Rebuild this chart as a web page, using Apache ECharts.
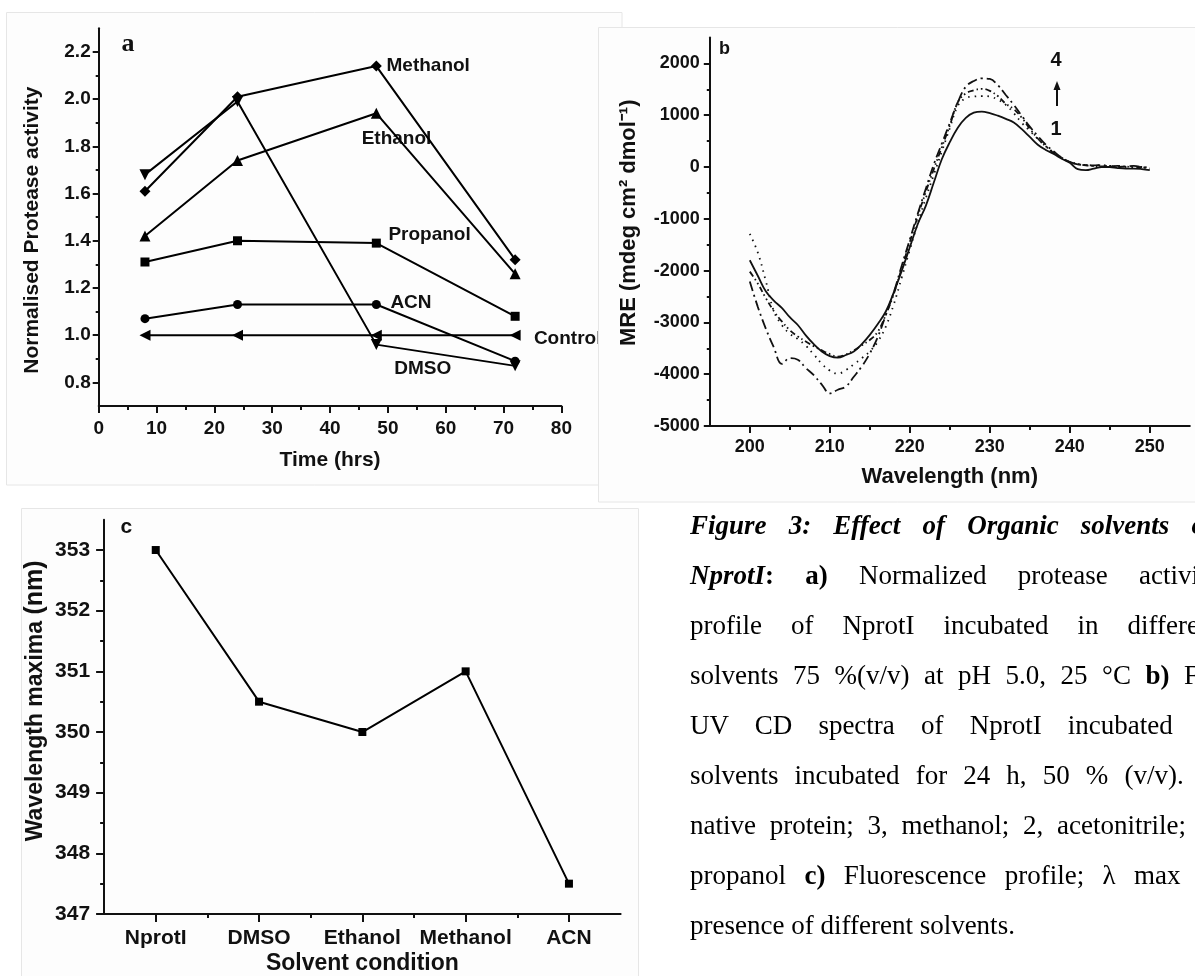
<!DOCTYPE html>
<html>
<head>
<meta charset="utf-8">
<title>Figure 3</title>
<script src="https://cdn.jsdelivr.net/npm/echarts@6.0.0/dist/echarts.min.js"></script>
<style>
  html, body { margin: 0; padding: 0; background: #fff; }
  body { width: 1195px; height: 976px; overflow: hidden; position: relative; }
  #chart { position: absolute; left: 0; top: 0; width: 1195px; height: 976px; }
  #cap {
    position: absolute; left: 690px; top: 500px; width: 530px;
    font-family: "Liberation Serif", "Times New Roman", serif;
    font-size: 27px; line-height: 50px; color: #000;
  }
  #cap .ln { text-align: justify; text-align-last: justify; }
  #cap .last { text-align: left; }
</style>
</head>
<body>
<div id="chart"></div>
<div id="cap">
  <div class="ln"><b><i>Figure 3: Effect of Organic solvents on</i></b></div>
  <div class="ln"><b><i>NprotI</i>:</b> <b>a)</b> Normalized protease activity</div>
  <div class="ln">profile of NprotI incubated in different</div>
  <div class="ln">solvents 75 %(v/v) at pH 5.0, 25 °C <b>b)</b> Far</div>
  <div class="ln">UV CD spectra of NprotI incubated in</div>
  <div class="ln">solvents incubated for 24 h, 50 % (v/v). 1,</div>
  <div class="ln">native protein; 3, methanol; 2, acetonitrile; 4,</div>
  <div class="ln">propanol <b>c)</b> Fluorescence profile; λ max in</div>
  <div class="last">presence of different solvents.</div>
</div>
<script>
// ---- panel a : normalised protease activity vs time ----
const hours = [8, 24, 48, 72]
const methanol = [1.61, 2.01, 2.14, 1.32]
const ethanol = [1.42, 1.74, 1.94, 1.26]
const dmso = [1.68, 1.99, 0.96, 0.87]
const propanol = [1.31, 1.40, 1.39, 1.08]
const acn = [1.07, 1.13, 1.13, 0.89]
const control = [1.00, 1.00, 1.00, 1.00]
const aTicksX = [0, 10, 20, 30, 40, 50, 60, 70, 80]
const aMinorX = [5, 15, 25, 35, 45, 55, 65, 75]
const aTicksY = [0.8, 1.0, 1.2, 1.4, 1.6, 1.8, 2.0, 2.2]
const aMinorY = [0.9, 1.1, 1.3, 1.5, 1.7, 1.9, 2.1]

// ---- panel b : far UV CD spectra ----
const wavelength = [200, 201, 202, 203, 204, 205, 206, 207, 208, 209,
  210, 211, 212, 213, 214, 215, 216, 217, 218, 219,
  220, 221, 222, 223, 224, 225, 226, 227, 228, 229,
  230, 231, 232, 233, 234, 235, 236, 237, 238, 239,
  240, 241, 242, 243, 244, 245, 246, 247, 248, 249, 250]
// 1, native protein
const cd1 = [-1800, -2100, -2400, -2580, -2720, -2900, -3050, -3250, -3420, -3560,
  -3650, -3680, -3630, -3560, -3420, -3240, -3030, -2790, -2420, -2000,
  -1550, -1100, -750, -300, 150, 480, 760, 950, 1050, 1070,
  1040, 990, 930, 860, 730, 580, 430, 330, 250, 160,
  80, -40, -60, -30, 0, 0, -20, -30, -30, -40, -60]
// 2, acetonitrile
const cd2 = [-1290, -1650, -2200, -2780, -3050, -3220, -3320, -3450, -3620, -3800,
  -3930, -3990, -3920, -3810, -3690, -3560, -3370, -3080, -2650, -2130,
  -1600, -1080, -600, -150, 300, 750, 1180, 1330, 1360, 1370,
  1360, 1300, 1200, 1040, 850, 700, 540, 400, 280, 180,
  100, 50, 40, 20, 30, 10, 20, 0, 10, -10, -20]
// 3, methanol
const cd3 = [-2020, -2250, -2530, -2780, -2980, -3150, -3270, -3370, -3460, -3540,
  -3610, -3660, -3620, -3540, -3440, -3340, -3180, -2850, -2450, -1950,
  -1450, -950, -480, -40, 380, 800, 1250, 1420, 1480, 1510,
  1470, 1370, 1220, 1120, 950, 740, 550, 400, 270, 170,
  100, 60, 30, 20, 10, 20, 0, 10, -10, 0, -20]
// 4, propanol
const cd4 = [-2210, -2700, -3120, -3480, -3800, -3690, -3720, -3880, -4020, -4200,
  -4370, -4300, -4240, -4050, -3850, -3600, -3280, -2860, -2420, -1900,
  -1400, -900, -420, 50, 450, 850, 1250, 1550, 1660, 1710,
  1700, 1580, 1390, 1200, 990, 780, 600, 430, 300, 180,
  100, 50, 40, 30, 40, 10, 20, 10, 20, 0, -30]
const bTicksX = [200, 210, 220, 230, 240, 250]
const bMinorX = [205, 215, 225, 235, 245]
const bTicksY = [-5000, -4000, -3000, -2000, -1000, 0, 1000, 2000]
const bMinorY = [-4500, -3500, -2500, -1500, -500, 500, 1500]

// ---- panel c : fluorescence lambda max ----
const solvents = ['NprotI', 'DMSO', 'Ethanol', 'Methanol', 'ACN']
const lambdaMax = [353, 350.5, 350, 351, 347.5]
const cTicksX = [1, 2, 3, 4, 5]
const cMinorX = [1.5, 2.5, 3.5, 4.5]
const cTicksY = [347, 348, 349, 350, 351, 352, 353]
const cMinorY = [347.5, 348.5, 349.5, 350.5, 351.5, 352.5]

const SANS = '"Liberation Sans", Arial, sans-serif'
const INK = '#111'

// major axis: line, long ticks and labels; minor axis: short ticks only
function axisPair(dim, grid, min, max, majors, minors, o) {
  const pos = dim === 'x' ? 'bottom' : 'left'
  const major = {
    type: 'value', gridIndex: grid, min, max, position: pos, z: 10,
    axisLine: { show: true, onZero: false, lineStyle: { color: INK, width: 2 } },
    axisTick: { show: true, customValues: majors, length: o.major, lineStyle: { color: INK, width: 2 } },
    axisLabel: {
      customValues: majors, margin: o.margin, color: INK, fontFamily: SANS,
      fontWeight: 'bold', fontSize: o.fontSize, formatter: o.fmt
    },
    splitLine: { show: false },
    name: o.name, nameLocation: 'middle', nameGap: o.nameGap,
    nameTextStyle: Object.assign({ color: INK, fontFamily: SANS, fontWeight: 'bold', fontSize: o.nameSize }, o.nameStyle || {})
  }
  const minor = {
    type: 'value', gridIndex: grid, min, max, position: pos, z: 10,
    axisLine: { show: false, onZero: false },
    axisTick: { show: true, customValues: minors, length: o.minor, lineStyle: { color: INK, width: 2 } },
    axisLabel: { show: false },
    splitLine: { show: false }
  }
  return [major, minor]
}

const xAxes = [
  ...axisPair('x', 0, 0, 80, aTicksX, aMinorX, {
    major: 7, minor: 4, margin: 13, fontSize: 19, fmt: v => String(v),
    name: 'Time (hrs)', nameGap: 44, nameSize: 21
  }),
  ...axisPair('x', 1, 195, 255, bTicksX, bMinorX, {
    major: 7, minor: 4, margin: 12, fontSize: 18, fmt: v => String(v),
    name: 'Wavelength (nm)', nameGap: 40, nameSize: 22
  }),
  ...axisPair('x', 2, 0.5, 5.5, cTicksX, cMinorX, {
    major: 8, minor: 4, margin: 14, fontSize: 21, fmt: v => solvents[Math.round(v) - 1],
    name: 'Solvent condition', nameGap: 38, nameSize: 23
  })
]
const yAxes = [
  ...axisPair('y', 0, 0.7, 2.3, aTicksY, aMinorY, {
    major: 6, minor: 3, margin: 8, fontSize: 19, fmt: v => v.toFixed(1),
    name: 'Normalised Protease activity', nameGap: 56, nameSize: 21,
    nameStyle: { padding: [0, 26, 0, 0] }
  }),
  ...axisPair('y', 1, -5000, 2500, bTicksY, bMinorY, {
    major: 6, minor: 3, margin: 10, fontSize: 18, fmt: v => String(v),
    name: 'MRE (mdeg cm\u00B2 dmol\u207B\u00B9)', nameGap: 70, nameSize: 22,
    nameStyle: { padding: [0, 0, 0, 18] }
  }),
  ...axisPair('y', 2, 347, 353.5, cTicksY, cMinorY, {
    major: 8, minor: 4, margin: 14, fontSize: 21, fmt: v => String(v),
    name: '{t|Wavelength maxima} {u|(nm)}', nameGap: 56, nameSize: 23,
    nameStyle: {
      padding: [0, 0, 0, 32],
      rich: {
        t: { fontFamily: SANS, fontWeight: 'bold', fontSize: 23, color: INK },
        u: { fontFamily: SANS, fontWeight: 'bold', fontSize: 25, color: INK }
      }
    }
  })
]

const pairs = ys => hours.map((h, i) => [h, ys[i]])
function aSeries(name, ys, symbol, rotate, size) {
  return {
    name, type: 'line', xAxisIndex: 0, yAxisIndex: 0, z: 10,
    data: pairs(ys), symbol, symbolRotate: rotate, symbolSize: size,
    lineStyle: { color: '#000', width: 2 }, itemStyle: { color: '#000' }
  }
}
function bSeries(name, ys, dash) {
  return {
    name, type: 'line', xAxisIndex: 2, yAxisIndex: 2, z: 10,
    data: wavelength.map((w, i) => [w, ys[i]]), showSymbol: false, smooth: 0.4,
    lineStyle: { color: '#111', width: 1.8, type: dash }
  }
}

const txt = (text, x, y, size, z, extra) => ({
  type: 'text', x, y, z,
  style: Object.assign({
    text, fill: INK, font: 'bold ' + size + 'px ' + SANS,
    textVerticalAlign: 'middle'
  }, extra || {})
})

const option = {
  animation: false,
  backgroundColor: '#fff',
  grid: [
    { left: 98.7, top: 28.3, width: 462.7, height: 377.7 },
    { left: 709.8, top: 37.5, width: 480, height: 388.5 },
    { left: 104.1, top: 519.7, width: 516.5, height: 395.3 }
  ],
  xAxis: xAxes,
  yAxis: yAxes,
  graphic: [
    // panel frames
    { type: 'rect', z: 0, shape: { x: 6.5, y: 12.5, width: 615.5, height: 472.5 },
      style: { fill: '#fdfdfd', stroke: '#e6e6e6', lineWidth: 1 } },
    { type: 'rect', z: 0, shape: { x: 21.5, y: 508.5, width: 617, height: 500 },
      style: { fill: '#fdfdfd', stroke: '#e6e6e6', lineWidth: 1 } },
    // panel a annotations
    { type: 'text', x: 121.5, y: 44, z: 1,
      style: { text: 'a', fill: INK, font: 'bold 26px "Liberation Serif", serif', textVerticalAlign: 'middle' } },
    txt('Methanol', 386.5, 65.7, 19, 1),
    txt('Ethanol', 361.7, 138.3, 19, 1),
    txt('Propanol', 388.4, 234.3, 19, 1),
    txt('ACN', 390.4, 302.7, 19, 1),
    txt('Control', 533.9, 339, 19, 1),
    txt('DMSO', 394.2, 368.3, 19, 1),
    // panel b frame sits over panel a
    { type: 'rect', z: 3, shape: { x: 598.5, y: 27.5, width: 620, height: 474.5 },
      style: { fill: '#fdfdfd', stroke: '#e6e6e6', lineWidth: 1 } },
    txt('b', 719, 49, 18, 12),
    txt('4', 1056, 60, 20, 12, { textAlign: 'center' }),
    txt('1', 1056, 129.5, 20, 12, { textAlign: 'center' }),
    { type: 'line', z: 12, shape: { x1: 1057, y1: 106, x2: 1057, y2: 88 },
      style: { stroke: INK, lineWidth: 2 } },
    { type: 'polygon', z: 12, shape: { points: [[1057, 81], [1053.5, 90], [1060.5, 90]] },
      style: { fill: INK } },
    // panel c label
    txt('c', 120.5, 527.5, 21, 1)
  ],
  series: [
    aSeries('Methanol', methanol, 'diamond', 0, 11),
    aSeries('Ethanol', ethanol, 'triangle', 0, 11),
    aSeries('DMSO', dmso, 'triangle', 180, 11),
    aSeries('Propanol', propanol, 'rect', 0, 9),
    aSeries('ACN', acn, 'circle', 0, 9),
    aSeries('Control', control, 'triangle', 90, 11),
    bSeries('1', cd1, 'solid'),
    bSeries('2', cd2, [1.5, 5]),
    bSeries('3', cd3, [6, 3, 1.5, 3, 1.5, 3]),
    bSeries('4', cd4, [10, 4, 2, 4]),
    {
      name: 'lambda max', type: 'line', xAxisIndex: 4, yAxisIndex: 4, z: 10,
      data: solvents.map((s, i) => [i + 1, lambdaMax[i]]),
      symbol: 'rect', symbolSize: 8,
      lineStyle: { color: '#000', width: 2 }, itemStyle: { color: '#000' }
    }
  ]
}

const chart = echarts.init(document.getElementById('chart'), null, { renderer: 'canvas' })
chart.setOption(option)
</script>
</body>
</html>
